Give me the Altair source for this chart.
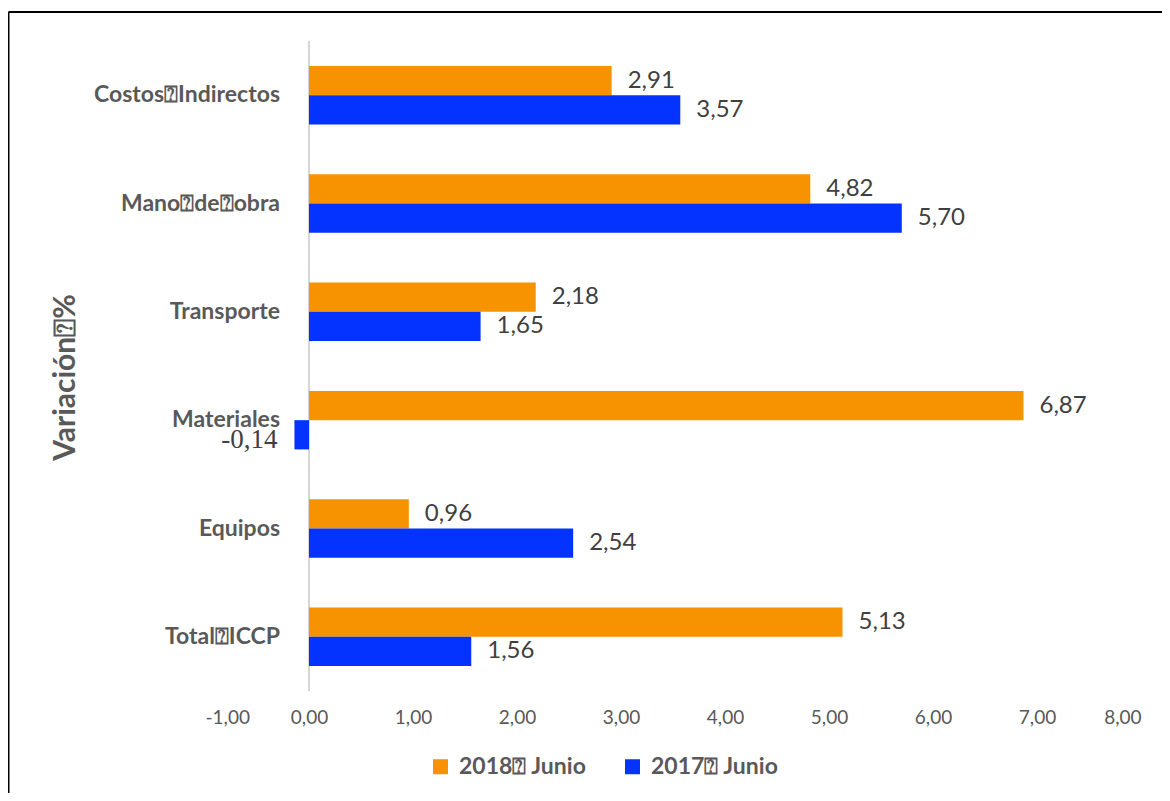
import altair as alt
import pandas as pd

categories = ["Costos⍰Indirectos", "Mano⍰de⍰obra", "Transporte", "Materiales", "Equipos", "Total⍰ICCP"]
series = ["2018⍰ Junio", "2017⍰ Junio"]
v2018 = [2.91, 4.82, 2.18, 6.87, 0.96, 5.13]
v2017 = [3.57, 5.70, 1.65, -0.14, 2.54, 1.56]
colors = ["#F79200", "#0433FF"]
x_ticks = [-1, 0, 1, 2, 3, 4, 5, 6, 7, 8]

rows = []
for c, a, b in zip(categories, v2018, v2017):
    rows.append({"cat": c, "serie": series[0], "val": a})
    rows.append({"cat": c, "serie": series[1], "val": b})
df = pd.DataFrame(rows)
df["lab"] = df["val"].map(lambda v: f"{v:.2f}".replace(".", ","))
pos = df[df["val"] >= 0]
neg = df[df["val"] < 0]
cat_df = pd.DataFrame({"cat": categories})

W, H = 936, 650
PL, PT = 197, 33

yscale = alt.Scale(domain=categories, paddingInner=0.46, paddingOuter=0.23)
xscale = alt.Scale(domain=[-1, 8], nice=False, zero=False)
yoff = alt.YOffset("serie:N", scale=alt.Scale(domain=series, paddingInner=0, paddingOuter=0))

y_enc = alt.Y("cat:N", scale=yscale, sort=categories,
              axis=alt.Axis(labels=False, ticks=False, domain=False, grid=False,
                            title="Variación⍰%", titleFont="Lato", titleFontSize=30,
                            titleFontWeight="bold", titleColor="#595959",
                            titleX=-140, titleY=336, titleAngle=270,
                            titleAlign="center", titleBaseline="middle"))
x_enc = alt.X("val:Q", scale=xscale,
              axis=alt.Axis(values=x_ticks, ticks=False, domain=False, grid=False, title=None,
                            labelExpr="replace(replace(format(datum.value, '.2f'), '.', ','), '\u2212', '-')",
                            labelFont="Lato", labelFontSize=19, labelColor="#595959",
                            labelPadding=17))

bars = alt.Chart(df).mark_bar().encode(
    x=x_enc, y=y_enc, yOffset=yoff,
    color=alt.Color("serie:N", scale=alt.Scale(domain=series, range=colors),
                    legend=alt.Legend(title=None, orient="none", direction="horizontal",
                                      legendX=224, legendY=714, symbolType="square",
                                      symbolSize=225, symbolStrokeWidth=0,
                                      labelFont="Lato", labelFontSize=23,
                                      labelFontWeight="bold", labelColor="#595959",
                                      columnPadding=34, labelOffset=7, labelLimit=300)),
)

zero = alt.Chart(pd.DataFrame({"z": [0]})).mark_rule(color="#C8C8C8", strokeWidth=1.5).encode(
    x=alt.X("z:Q", scale=xscale))

pos_text = alt.Chart(pos).mark_text(align="left", baseline="middle", dx=16, font="Lato",
                                    fontSize=24, color="#404040").encode(
    x=alt.X("val:Q", scale=xscale), y=alt.Y("cat:N", scale=yscale, sort=categories),
    yOffset=yoff, text="lab:N")

neg_text = alt.Chart(neg).mark_text(align="right", baseline="middle", dx=-17, dy=5,
                                    font="Liberation Serif, DejaVu Serif, serif", fontSize=27,
                                    color="#404040").encode(
    x=alt.X("val:Q", scale=xscale), y=alt.Y("cat:N", scale=yscale, sort=categories),
    yOffset=yoff, text="lab:N")

cat_text = alt.Chart(cat_df).mark_text(align="right", baseline="middle", dx=-29, font="Lato",
                                       fontSize=23, fontWeight="bold", color="#595959").encode(
    x=alt.datum(0, scale=xscale), y=alt.Y("cat:N", scale=yscale, sort=categories), text="cat:N")

frame_top = alt.Chart(cat_df.head(1)).mark_rule(color="#000000", strokeWidth=2, clip=False).encode(
    x=alt.value(-PL + 0.5), x2=alt.value(W + 60), y=alt.value(-29))
frame_left = alt.Chart(cat_df.head(1)).mark_rule(color="#000000", strokeWidth=2, clip=False).encode(
    x=alt.value(-PL + 0.5), y=alt.value(-29), y2=alt.value(H + 150))

chart = alt.layer(zero, bars, pos_text, neg_text, cat_text, frame_top, frame_left).properties(
    width=W, height=H,
    autosize=alt.AutoSizeParams(type="none"),
    padding={"left": PL, "top": PT, "right": 1154 - PL - W, "bottom": 785 - PT - H},
).configure(background="white", view=alt.ViewConfig(stroke=None, strokeWidth=0))

chart.save("out.html", embed_options={"renderer": "svg", "actions": False})
